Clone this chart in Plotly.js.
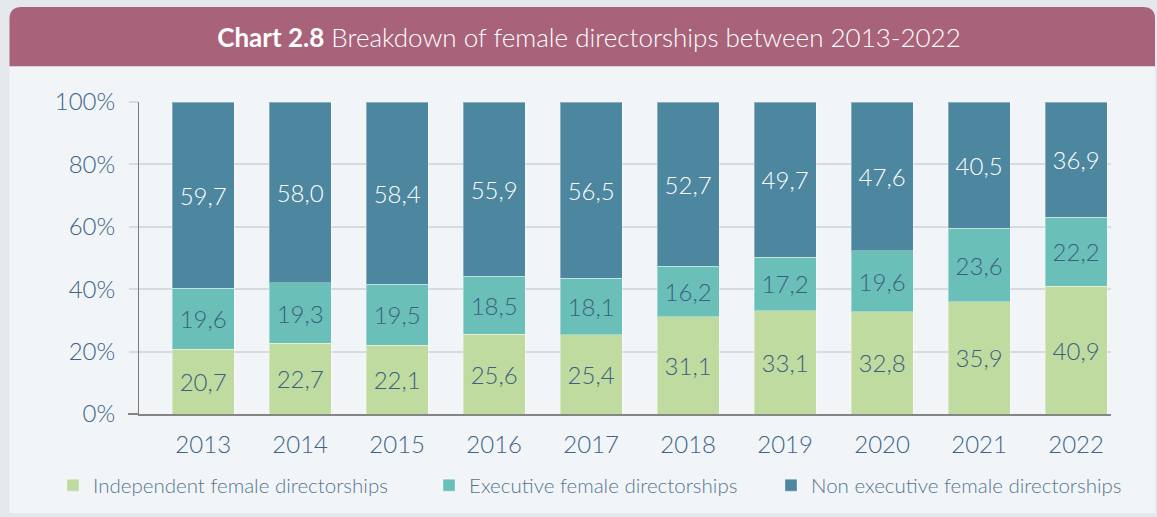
<!DOCTYPE html>
<html>
<head>
<meta charset="utf-8">
<script src="https://cdn.plot.ly/plotly-3.0.1.min.js"></script>
<style>
  html, body { margin: 0; padding: 0; background: #e4e8ec; }
  #chart { width: 1157px; height: 517px; }
</style>
</head>
<body>
<div id="chart"></div>
<script>
// ---- Data ----
const years = ['2013', '2014', '2015', '2016', '2017', '2018', '2019', '2020', '2021', '2022'];
const independent = [20.7, 22.7, 22.1, 25.6, 25.4, 31.1, 33.1, 32.8, 35.9, 40.9];
const executive = [19.6, 19.3, 19.5, 18.5, 18.1, 16.2, 17.2, 19.6, 23.6, 22.2];
const nonExecutive = [59.7, 58.0, 58.4, 55.9, 56.5, 52.7, 49.7, 47.6, 40.5, 36.9];
const seriesNames = ['Independent female directorships', 'Executive female directorships', 'Non executive female directorships'];
const yTickVals = [0, 20, 40, 60, 80, 100];
const yTickText = ['0%', '20%', '40%', '60%', '80%', '100%'];
const titleText = '<b>Chart 2.8</b> Breakdown of female directorships between 2013-2022';

// ---- Styling ----
const FONT = 'Lato, Noto Sans, sans-serif';
const W = 1157, H = 517;
const M = { l: 139, r: 46, t: 102, b: 100 };
const PW = W - M.l - M.r, PH = H - M.t - M.b;
const px = x => (x - M.l) / PW;          // pixel -> paper x
const py = y => (H - M.b - y) / PH;      // pixel -> paper y

const fmt = v => v.toFixed(1).replace('.', ',');

function barTrace(name, values, color, textColor, legendId) {
  return {
    type: 'bar',
    name: name,
    legend: legendId,
    x: years,
    y: values,
    marker: { color: color, line: { color: 'rgba(255,255,255,0.35)', width: 1 } },
    text: values.map(fmt),
    textposition: 'inside',
    insidetextanchor: 'middle',
    textangle: 0,
    constraintext: 'none',
    textfont: { family: FONT, size: 24, weight: 300, color: textColor },
    hoverinfo: 'x+y+name'
  };
}

const data = [
  barTrace(seriesNames[0], independent, '#bfdba0', '#3d5f80', 'legend'),
  barTrace(seriesNames[1], executive, '#6abfb8', '#3d5f80', 'legend2'),
  barTrace(seriesNames[2], nonExecutive, '#4c869f', '#ffffff', 'legend3')
];

// card geometry
const x0 = px(9.5), x1 = px(1155);
const yTop = py(6), yHead = py(66), yBot = py(517);
const rx = 12 / PW, ry = 12 / PH;
const headerPath = `M ${x0},${yHead} L ${x0},${yTop - ry} Q ${x0},${yTop} ${x0 + rx},${yTop} ` +
  `L ${x1 - rx},${yTop} Q ${x1},${yTop} ${x1},${yTop - ry} L ${x1},${yHead} Z`;

function legendAt(textLeftPx) {
  return {
    orientation: 'h',
    x: px(textLeftPx - 40),
    xanchor: 'left',
    y: py(489),
    yanchor: 'middle',
    bgcolor: 'rgba(0,0,0,0)',
    font: { family: FONT, size: 20.5, weight: 300, color: '#577591' },
    itemclick: false,
    itemdoubleclick: false
  };
}

const tickFont = { family: FONT, size: 24, weight: 300, color: '#3e6387' };

const layout = {
  width: W,
  height: H,
  margin: M,
  paper_bgcolor: '#e4e8ec',
  plot_bgcolor: 'rgba(0,0,0,0)',
  barmode: 'stack',
  bargap: 0.362,
  showlegend: true,
  title: {
    text: titleText,
    font: { family: FONT, size: 26, weight: 300, color: '#ffffff' },
    x: 589 / W,
    xanchor: 'center',
    y: 1 - 38 / H,
    yanchor: 'middle'
  },
  font: { family: FONT, color: '#3e6387' },
  xaxis: {
    type: 'category',
    range: [-0.662, 9.36],
    showgrid: false,
    showline: true,
    linecolor: '#858585',
    linewidth: 2,
    ticks: '',
    ticklabelstandoff: 8,
    tickfont: tickFont,
    fixedrange: true
  },
  yaxis: {
    range: [0, 100],
    tickvals: yTickVals,
    ticktext: yTickText,
    showgrid: true,
    gridcolor: '#d8dbde',
    gridwidth: 2,
    zeroline: false,
    showline: true,
    linecolor: '#7a7a7a',
    linewidth: 1,
    ticks: 'outside',
    ticklen: 9,
    tickwidth: 2,
    tickcolor: '#d8dbde',
    ticklabelstandoff: 9,
    tickfont: tickFont,
    fixedrange: true
  },
  legend: legendAt(93),
  legend2: legendAt(469),
  legend3: legendAt(811),
  shapes: [
    { type: 'rect', xref: 'paper', yref: 'paper', x0: x0, x1: x1, y0: yBot, y1: yHead,
      fillcolor: '#f1f5f8', line: { width: 0 }, layer: 'below' },
    { type: 'path', xref: 'paper', yref: 'paper', path: headerPath,
      fillcolor: '#a8637a', line: { width: 0 }, layer: 'below' },
    { type: 'line', xref: 'paper', yref: 'paper', x0: px(128), x1: 0, y0: 0, y1: 0,
      line: { color: '#858585', width: 2 }, layer: 'above' }
  ]
};

Plotly.newPlot('chart', data, layout, { displayModeBar: false });
</script>
</body>
</html>
